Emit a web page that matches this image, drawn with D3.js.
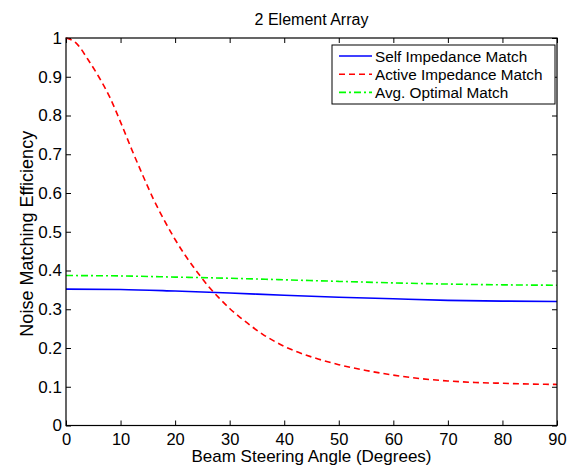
<!DOCTYPE html>
<html><head><meta charset="utf-8">
<script src="https://cdn.jsdelivr.net/npm/d3@7"></script>
<style>body{margin:0;background:#fff;} svg{display:block;font-family:Arial,"Liberation Sans",Helvetica,sans-serif;}</style>
</head><body>
<svg id="chart" width="573" height="470"></svg>
<script>
const angles = [0,2,4,6,8,10,12,14,16,18,20,22,24,26,28,30,32,34,36,38,40,42,45,50,55,60,65,70,75,80,85,90];
const activeMatch = [1.000,0.985,0.945,0.900,0.848,0.783,0.714,0.648,0.585,0.530,0.480,0.436,0.397,0.361,0.330,0.302,0.278,0.256,0.236,0.219,0.204,0.192,0.177,0.157,0.142,0.130,0.121,0.115,0.111,0.109,0.107,0.106];
const angles10 = [0,10,20,30,40,50,60,70,80,90];
const selfMatch = [0.352,0.351,0.347,0.342,0.336,0.331,0.327,0.323,0.321,0.320];
const optMatch = [0.387,0.386,0.383,0.380,0.376,0.372,0.368,0.365,0.363,0.362];
const xTicks = [0,10,20,30,40,50,60,70,80,90];
const yTicks = [0,0.1,0.2,0.3,0.4,0.5,0.6,0.7,0.8,0.9,1];
const legendLabels = ["Self Impedance Match","Active Impedance Match","Avg. Optimal Match"];

const svg = d3.select("#chart");
const L=66, R=557, T=38, B=425.5;
const x = d3.scaleLinear().domain([0,90]).range([L,R]);
const y = d3.scaleLinear().domain([0,1]).range([B,T]);

const tl = 5;
const FS = 17;
// bottom axis
svg.append("g").attr("transform",`translate(0,${B})`)
  .call(d3.axisBottom(x).tickValues(xTicks).tickSizeInner(-tl).tickSizeOuter(0).tickPadding(8).tickFormat(d3.format("d")))
  .call(g=>{g.select(".domain").remove(); g.selectAll("text").attr("font-size",16.5).attr("fill","#000");});
// top ticks
svg.append("g").attr("transform",`translate(0,${T})`)
  .call(d3.axisTop(x).tickValues(xTicks).tickSizeInner(-tl).tickSizeOuter(0).tickFormat(""))
  .call(g=>g.select(".domain").remove());
// left axis
svg.append("g").attr("transform",`translate(${L},0)`)
  .call(d3.axisLeft(y).tickValues(yTicks).tickSizeInner(-tl).tickSizeOuter(0).tickPadding(4).tickFormat(d=>String(+d.toFixed(1))))
  .call(g=>{g.select(".domain").remove(); g.selectAll("text").attr("font-size",FS).attr("fill","#000");});
// right ticks
svg.append("g").attr("transform",`translate(${R},0)`)
  .call(d3.axisRight(y).tickValues(yTicks).tickSizeInner(-tl).tickSizeOuter(0).tickFormat(""))
  .call(g=>g.select(".domain").remove());
svg.selectAll(".tick line").attr("stroke","#000");

// lines
const line = (xs)=>d3.line().x((d,i)=>x(xs[i])).y(d=>y(d));
svg.append("path").datum(selfMatch).attr("d",line(angles10).curve(d3.curveMonotoneX))
  .attr("fill","none").attr("stroke","#0000ff").attr("stroke-width",1.6);
svg.append("path").datum(activeMatch).attr("d",line(angles).curve(d3.curveMonotoneX))
  .attr("fill","none").attr("stroke","#ff0000").attr("stroke-width",1.6).attr("stroke-dasharray","6,4");
svg.append("path").datum(optMatch).attr("d",line(angles10).curve(d3.curveMonotoneX))
  .attr("fill","none").attr("stroke","#00ff00").attr("stroke-width",1.6).attr("stroke-dasharray","7,3,2,3");

// frame
svg.append("rect").attr("x",L).attr("y",T).attr("width",R-L).attr("height",B-T)
  .attr("fill","none").attr("stroke","#000").attr("stroke-width",1.2);

// title & labels
svg.append("text").attr("x",(L+R)/2).attr("y",25).attr("text-anchor","middle").attr("font-size",16).text("2 Element Array");
svg.append("text").attr("x",(L+R)/2).attr("y",462).attr("text-anchor","middle").attr("font-size",17).text("Beam Steering Angle (Degrees)");
svg.append("text").attr("transform",`translate(33,${(T+B)/2+2}) rotate(-90)`).attr("text-anchor","middle").attr("font-size",18).text("Noise Matching Efficiency");

// legend
const lg = svg.append("g");
lg.append("rect").attr("x",332).attr("y",45).attr("width",223).attr("height",59)
  .attr("fill","#fff").attr("stroke","#000").attr("stroke-width",1);
const styles = [{c:"#0000ff",d:null},{c:"#ff0000",d:"6,4"},{c:"#00ff00",d:"7,3,2,3"}];
legendLabels.forEach((t,i)=>{
  const yy = 56 + i*18.2;
  lg.append("line").attr("x1",339).attr("x2",372).attr("y1",yy).attr("y2",yy)
    .attr("stroke",styles[i].c).attr("stroke-width",1.6).attr("stroke-dasharray",styles[i].d);
  lg.append("text").attr("x",375).attr("y",yy+5.5).attr("font-size",15.3).text(t);
});
</script>
</body></html>
